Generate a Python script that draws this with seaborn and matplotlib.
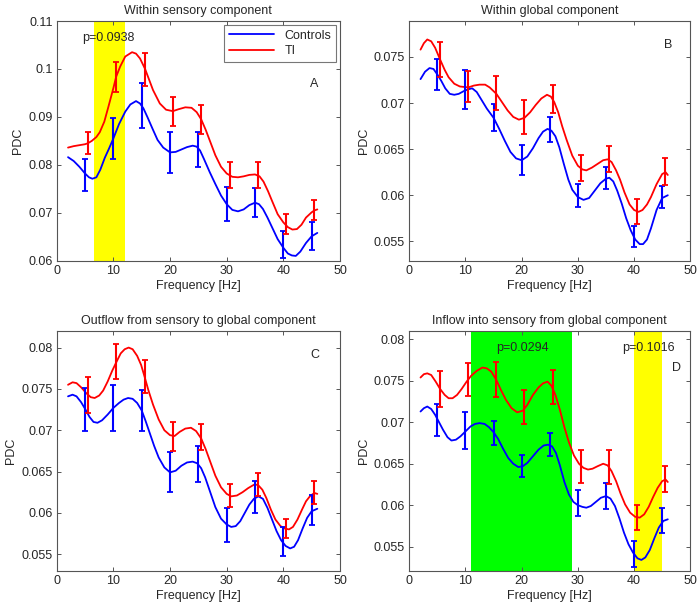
import matplotlib
matplotlib.use("Agg")
import matplotlib.pyplot as plt
import seaborn as sns
from matplotlib.ticker import FuncFormatter

sns.set_style("ticks")
plt.rcParams['font.family'] = ['Liberation Sans', 'DejaVu Sans']
plt.rcParams['font.size'] = 9

# ---- panel A: within sensory component ----
a_ti_x = [2, 3, 4, 5, 5.5, 6.2, 7, 7.6, 8.4, 9.1, 10, 10.5, 11.2, 12.1, 13.3, 14, 14.7, 15.6,
          16.3, 17, 18.2, 19.3, 20.5, 21.5, 22.7, 23.8, 24.7, 25.5, 26.3, 27.2, 28, 29, 30, 31,
          32, 33, 34, 35, 35.8, 36.5, 37.3, 38, 39, 40, 40.8, 41.6, 42.4, 43.2, 44, 45, 45.5, 46]
a_ti_y = [0.0836, 0.0839, 0.0841, 0.0843, 0.0845, 0.0850, 0.0858, 0.0868, 0.0890, 0.0920, 0.0960,
          0.0984, 0.1005, 0.1026, 0.1035, 0.1032, 0.1022, 0.1000, 0.0978, 0.0956, 0.0928, 0.0915,
          0.0912, 0.0916, 0.0920, 0.0919, 0.0910, 0.0895, 0.0873, 0.0845, 0.0820, 0.0796, 0.0782,
          0.0775, 0.0774, 0.0776, 0.0779, 0.0780, 0.0776, 0.0765, 0.0745, 0.0725, 0.0697, 0.0680,
          0.0670, 0.0665, 0.0666, 0.0675, 0.0690, 0.0701, 0.0705, 0.0707]
a_ct_x = [2, 3, 4, 5, 5.7, 6.3, 7, 7.7, 8.5, 9.2, 10, 11, 12.1, 13, 14, 14.7, 15.3, 16, 17, 17.8,
          18.8, 20, 21, 22, 23, 24, 24.7, 25.3, 26, 27, 28, 29, 30, 31, 32, 33, 34, 35, 35.7, 36.4,
          37.2, 38, 39, 40, 40.8, 41.5, 42.2, 43, 44, 45, 46]
a_ct_y = [0.0816, 0.0808, 0.0796, 0.0782, 0.0774, 0.0771, 0.0774, 0.0790, 0.0815, 0.0833, 0.0855,
          0.0885, 0.0911, 0.0926, 0.0933, 0.0928, 0.0918, 0.0900, 0.0873, 0.0852, 0.0836, 0.0826,
          0.0827, 0.0832, 0.0837, 0.0840, 0.0838, 0.0830, 0.0812, 0.0785, 0.0760, 0.0736, 0.0718,
          0.0706, 0.0703, 0.0707, 0.0716, 0.0721, 0.0718, 0.0708, 0.0690, 0.0670, 0.0645, 0.0627,
          0.0615, 0.0611, 0.0610, 0.0619, 0.0637, 0.0651, 0.0658]
a_ti_ebx = [5.5, 10.5, 15.5, 20.5, 25.5, 30.5, 35.5, 40.5, 45.5]
a_ti_lo = [0.0822, 0.0953, 0.0965, 0.0880, 0.0864, 0.0752, 0.0752, 0.0655, 0.0685]
a_ti_hi = [0.0868, 0.1015, 0.1033, 0.0942, 0.0925, 0.0805, 0.0806, 0.0698, 0.0726]
a_ct_ebx = [5, 10, 15, 20, 25, 30, 35, 40, 45]
a_ct_lo = [0.0745, 0.0812, 0.0877, 0.0784, 0.0796, 0.0683, 0.0692, 0.0606, 0.0622]
a_ct_hi = [0.0812, 0.0897, 0.0971, 0.0869, 0.0869, 0.0753, 0.0751, 0.0662, 0.0681]

# ---- panel B: within global component ----
b_ti_x = [2, 2.6, 3.2, 3.9, 4.6, 5.5, 6.3, 7, 8, 9, 10.5, 11.5, 12.5, 13.5, 14.3, 15.5, 16.5,
          17.5, 18.5, 19.5, 20.5, 21.5, 22.5, 23.5, 24.5, 25.2, 25.8, 26.5, 27.2, 28, 29, 30, 30.8,
          31.5, 32.5, 33.5, 34.5, 35.3, 36, 36.8, 37.5, 38.3, 39.2, 40, 40.8, 41.5, 42.3, 43, 44,
          45, 45.6, 46]
b_ti_y = [0.0758, 0.0765, 0.0769, 0.0767, 0.0760, 0.0747, 0.0736, 0.0728, 0.0721, 0.0718, 0.0717,
          0.0719, 0.0720, 0.0720, 0.0717, 0.0710, 0.0701, 0.0692, 0.0685, 0.0682, 0.0684, 0.0690,
          0.0698, 0.0705, 0.0709, 0.0707, 0.0701, 0.0690, 0.0675, 0.0660, 0.0643, 0.0632, 0.0628,
          0.0627, 0.0630, 0.0634, 0.0638, 0.0639, 0.0636, 0.0627, 0.0617, 0.0603, 0.0590, 0.0584,
          0.0582, 0.0584, 0.0590, 0.0598, 0.0612, 0.0623, 0.0625, 0.0622]
b_ct_x = [2, 2.8, 3.6, 4.3, 5, 5.7, 6.4, 7.2, 8, 8.8, 9.7, 10.5, 11.2, 12, 12.8, 13.8, 15, 16, 17,
          18, 19, 20, 21, 22, 23, 23.8, 24.6, 25.3, 26, 26.7, 27.5, 28.3, 29, 30, 31, 32, 33, 34,
          35, 35.6, 36.3, 37, 37.8, 38.6, 39.4, 40.2, 41, 41.6, 42.3, 43, 44, 45, 46]
b_ct_y = [0.0726, 0.0734, 0.0738, 0.0737, 0.0731, 0.0724, 0.0716, 0.0710, 0.0709, 0.0710, 0.0713,
          0.0715, 0.0716, 0.0712, 0.0704, 0.0694, 0.0684, 0.0672, 0.0659, 0.0647, 0.0640, 0.0638,
          0.0642, 0.0651, 0.0662, 0.0669, 0.0672, 0.0670, 0.0664, 0.0652, 0.0634, 0.0617, 0.0606,
          0.0598, 0.0595, 0.0597, 0.0605, 0.0613, 0.0618, 0.0619, 0.0615, 0.0605, 0.0591, 0.0575,
          0.0562, 0.0552, 0.0547, 0.0547, 0.0552, 0.0564, 0.0584, 0.0597, 0.0600]
b_ti_ebx = [5.5, 10.5, 15.5, 20.5, 25.5, 30.5, 35.5, 40.5, 45.5]
b_ti_lo = [0.0728, 0.0701, 0.0693, 0.0666, 0.0689, 0.0615, 0.0625, 0.0569, 0.0611]
b_ti_hi = [0.0766, 0.0735, 0.0729, 0.0703, 0.0720, 0.0644, 0.0653, 0.0596, 0.0640]
b_ct_ebx = [5, 10, 15, 20, 25, 30, 35, 40, 45]
b_ct_lo = [0.0714, 0.0694, 0.0670, 0.0622, 0.0658, 0.0587, 0.0607, 0.0544, 0.0586]
b_ct_hi = [0.0748, 0.0736, 0.0699, 0.0654, 0.0685, 0.0612, 0.0631, 0.0567, 0.0610]

# ---- panel C: outflow sensory -> global ----
c_ti_x = [2, 2.8, 3.5, 4.3, 5.2, 6, 6.7, 7.5, 8.2, 9, 9.8, 10.5, 11.3, 12, 12.7, 13.4, 14.2, 14.9,
          15.5, 16.2, 17, 18, 19, 20, 20.8, 21.7, 22.7, 23.7, 24.6, 25.5, 26.3, 27.2, 28, 29, 30,
          30.8, 31.8, 32.8, 33.8, 34.8, 35.5, 36.3, 37, 37.8, 38.6, 39.5, 40.3, 41, 41.7, 42.5,
          43.3, 44, 44.8, 45.5, 46]
c_ti_y = [0.0755, 0.0758, 0.0757, 0.0752, 0.0745, 0.0740, 0.0739, 0.0742, 0.0748, 0.0759, 0.0772,
          0.0782, 0.0793, 0.0798, 0.0800, 0.0798, 0.0790, 0.0779, 0.0765, 0.0748, 0.0731, 0.0713,
          0.0700, 0.0694, 0.0693, 0.0698, 0.0702, 0.0703, 0.0699, 0.0690, 0.0677, 0.0660, 0.0645,
          0.0631, 0.0623, 0.0620, 0.0621, 0.0625, 0.0630, 0.0634, 0.0634, 0.0628, 0.0618, 0.0604,
          0.0592, 0.0584, 0.0581, 0.0580, 0.0583, 0.0592, 0.0604, 0.0614, 0.0621, 0.0624, 0.0623]
c_ct_x = [2, 2.8, 3.5, 4.3, 5, 5.8, 6.5, 7.2, 8, 9, 10, 11, 11.8, 12.6, 13.4, 14.2, 15, 15.7, 16.4,
          17.2, 18, 19, 20, 21, 22, 23, 24, 24.8, 25.5, 26.2, 27, 28, 29, 30, 30.8, 31.6, 32.4,
          33.2, 34, 34.8, 35.6, 36.4, 37.2, 38, 38.8, 39.6, 40.4, 41.2, 41.9, 42.6, 43.4, 44.2,
          45, 46]
c_ct_y = [0.0741, 0.0743, 0.0741, 0.0734, 0.0726, 0.0716, 0.0710, 0.0709, 0.0712, 0.0719, 0.0727,
          0.0733, 0.0737, 0.0739, 0.0738, 0.0733, 0.0724, 0.0711, 0.0697, 0.0681, 0.0667, 0.0655,
          0.0649, 0.0651, 0.0657, 0.0661, 0.0662, 0.0660, 0.0654, 0.0643, 0.0627, 0.0607, 0.0593,
          0.0586, 0.0583, 0.0584, 0.0590, 0.0600, 0.0610, 0.0617, 0.0620, 0.0617, 0.0606, 0.0592,
          0.0578, 0.0567, 0.0560, 0.0557, 0.0559, 0.0567, 0.0581, 0.0594, 0.0602, 0.0605]
c_ti_ebx = [5.5, 10.5, 15.5, 20.5, 25.5, 30.5, 35.5, 40.5, 45.5]
c_ti_lo = [0.0721, 0.0762, 0.0745, 0.0675, 0.0676, 0.0607, 0.0621, 0.0569, 0.0611]
c_ti_hi = [0.0765, 0.0804, 0.0785, 0.0710, 0.0707, 0.0635, 0.0648, 0.0593, 0.0638]
c_ct_ebx = [5, 10, 15, 20, 25, 30, 35, 40, 45]
c_ct_lo = [0.0699, 0.0699, 0.0699, 0.0625, 0.0637, 0.0565, 0.0600, 0.0548, 0.0585]
c_ct_hi = [0.0751, 0.0755, 0.0749, 0.0674, 0.0681, 0.0606, 0.0638, 0.0583, 0.0622]

# ---- panel D: inflow global -> sensory ----
d_ti_x = [2, 2.6, 3.2, 3.9, 4.7, 5.5, 6.3, 7, 7.7, 8.5, 9.3, 10.2, 11, 12, 13, 13.8, 14.6, 15.5,
          16.3, 17.2, 18.2, 19.2, 20.2, 21, 22, 23, 23.8, 24.6, 25.3, 26, 26.8, 27.6, 28.4, 29.3,
          30.2, 31, 31.8, 32.6, 33.5, 34.5, 35.3, 36, 36.8, 37.6, 38.4, 39.3, 40.2, 41, 41.8, 42.6,
          43.4, 44.2, 45, 45.6, 46]
d_ti_y = [0.0754, 0.0758, 0.0759, 0.0757, 0.0749, 0.0740, 0.0733, 0.0729, 0.0729, 0.0733, 0.0740,
          0.0749, 0.0756, 0.0762, 0.0766, 0.0765, 0.0761, 0.0751, 0.0739, 0.0727, 0.0717, 0.0712,
          0.0714, 0.0721, 0.0733, 0.0742, 0.0747, 0.0749, 0.0744, 0.0733, 0.0715, 0.0694, 0.0676,
          0.0660, 0.0650, 0.0645, 0.0643, 0.0644, 0.0647, 0.0650, 0.0648, 0.0641, 0.0629, 0.0614,
          0.0601, 0.0591, 0.0586, 0.0585, 0.0589, 0.0598, 0.0610, 0.0621, 0.0629, 0.0631, 0.0628]
d_ct_x = [2, 2.6, 3.2, 3.9, 4.6, 5.3, 6, 6.8, 7.5, 8.3, 9.1, 10, 10.9, 11.7, 12.5, 13.4, 14.2, 15,
          15.8, 16.7, 17.6, 18.5, 19.4, 20.2, 21, 22, 23, 23.9, 24.7, 25.4, 26.1, 26.8, 27.6, 28.4,
          29.2, 30, 30.8, 31.5, 32.3, 33.2, 34.1, 35, 35.8, 36.6, 37.4, 38.2, 39, 39.8, 40.6, 41.3,
          42, 42.8, 43.6, 44.4, 45.2, 46]
d_ct_y = [0.0713, 0.0717, 0.0719, 0.0716, 0.0709, 0.0700, 0.0691, 0.0682, 0.0678, 0.0679, 0.0683,
          0.0689, 0.0695, 0.0698, 0.0699, 0.0698, 0.0694, 0.0688, 0.0680, 0.0668, 0.0657, 0.0650,
          0.0646, 0.0647, 0.0651, 0.0659, 0.0667, 0.0672, 0.0673, 0.0671, 0.0663, 0.0648, 0.0628,
          0.0613, 0.0604, 0.0600, 0.0598, 0.0597, 0.0599, 0.0604, 0.0609, 0.0611, 0.0608, 0.0599,
          0.0584, 0.0567, 0.0553, 0.0543, 0.0536, 0.0534, 0.0537, 0.0546, 0.0560, 0.0573, 0.0581,
          0.0583]
d_ti_ebx = [5.5, 10.5, 15.5, 20.5, 25.5, 30.5, 35.5, 40.5, 45.5]
d_ti_lo = [0.0719, 0.0732, 0.0730, 0.0698, 0.0722, 0.0627, 0.0626, 0.0570, 0.0616]
d_ti_hi = [0.0762, 0.0771, 0.0773, 0.0739, 0.0763, 0.0667, 0.0666, 0.0600, 0.0647]
d_ct_ebx = [5, 10, 15, 20, 25, 30, 35, 40, 45]
d_ct_lo = [0.0684, 0.0668, 0.0673, 0.0634, 0.0659, 0.0587, 0.0595, 0.0525, 0.0566]
d_ct_hi = [0.0722, 0.0712, 0.0702, 0.0661, 0.0687, 0.0618, 0.0627, 0.0557, 0.0597]

titles = ["Within sensory component", "Within global component",
          "Outflow from sensory to global component", "Inflow into sensory from global component"]
letters = ["A", "B", "C", "D"]
ylims = [(0.06, 0.11), (0.0529, 0.0789), (0.053, 0.082), (0.0521, 0.081)]
yticks = [[0.06, 0.07, 0.08, 0.09, 0.10, 0.11],
          [0.055, 0.06, 0.065, 0.07, 0.075],
          [0.055, 0.06, 0.065, 0.07, 0.075, 0.08],
          [0.055, 0.06, 0.065, 0.07, 0.075, 0.08]]
letter_pos = [(45.5, 0.0968), (46.0, 0.0763), (45.6, 0.0791), (47.6, 0.0765)]

# significance spans: (panel, start, end, colour, label, label x, label y)
spans = [(0, 6.5, 12, "#ffff00", "p=0.0938", 9.1, 0.1064),
         (3, 11, 29, "#00ff00", "p=0.0294", 20.1, 0.0789),
         (3, 40, 45, "#ffff00", "p=0.1016", 42.5, 0.0789)]

panels = [
    (a_ct_x, a_ct_y, a_ti_x, a_ti_y, a_ct_ebx, a_ct_lo, a_ct_hi, a_ti_ebx, a_ti_lo, a_ti_hi),
    (b_ct_x, b_ct_y, b_ti_x, b_ti_y, b_ct_ebx, b_ct_lo, b_ct_hi, b_ti_ebx, b_ti_lo, b_ti_hi),
    (c_ct_x, c_ct_y, c_ti_x, c_ti_y, c_ct_ebx, c_ct_lo, c_ct_hi, c_ti_ebx, c_ti_lo, c_ti_hi),
    (d_ct_x, d_ct_y, d_ti_x, d_ti_y, d_ct_ebx, d_ct_lo, d_ct_hi, d_ti_ebx, d_ti_lo, d_ti_hi),
]

fig = plt.figure(figsize=(7, 6.08), dpi=100)
positions = [[0.081, 0.5712, 0.4047, 0.3942], [0.5847, 0.5712, 0.4014, 0.3942],
             [0.081, 0.0613, 0.4047, 0.3942], [0.5847, 0.0613, 0.4014, 0.3942]]

blue = "#0000ff"
red = "#ff0000"


def draw_err(ax, xs, lo, hi, col):
    mid = [(l + h) / 2 for l, h in zip(lo, hi)]
    half = [(h - l) / 2 for l, h in zip(lo, hi)]
    ax.errorbar(xs, mid, yerr=half, fmt="none", ecolor=col, elinewidth=1.5,
                capsize=2.3, capthick=1.3, zorder=4)


for i, pos in enumerate(positions):
    ax = fig.add_axes(pos)
    cx, cy, tx, ty, cex, clo, chi, tex, tlo, thi = panels[i]

    for (p, s, e, col, lab, lx, ly) in spans:
        if p == i:
            ax.axvspan(s, e, color=col, lw=0, zorder=0)
            ax.text(lx, ly, lab, ha="center", va="center", fontsize=9)

    sns.lineplot(x=cx, y=cy, ax=ax, color=blue, lw=1.3, label="Controls" if i == 0 else None,
                 legend=False, zorder=3)
    sns.lineplot(x=tx, y=ty, ax=ax, color=red, lw=1.3, label="TI" if i == 0 else None,
                 legend=False, zorder=3)
    draw_err(ax, cex, clo, chi, blue)
    draw_err(ax, tex, tlo, thi, red)

    ax.set_xlim(0, 50)
    ax.set_ylim(*ylims[i])
    ax.set_xticks([0, 10, 20, 30, 40, 50])
    ax.set_yticks(yticks[i])
    ax.yaxis.set_major_formatter(FuncFormatter(lambda v, _: "%g" % round(v, 4)))
    ax.set_title(titles[i], fontsize=9, pad=5)
    ax.set_xlabel("Frequency [Hz]", fontsize=9, labelpad=2)
    ax.set_ylabel("PDC", fontsize=9, labelpad=3)
    ax.text(*letter_pos[i], letters[i], ha="center", va="center", fontsize=9)

    for sp in ax.spines.values():
        sp.set_visible(True)
        sp.set_color("#555555")
        sp.set_linewidth(0.8)
    ax.tick_params(direction="in", length=3, width=0.7, color="#555555", labelsize=9,
                   top=True, right=True, pad=3)
    ax.grid(False)

    if i == 0:
        leg = ax.legend(loc="upper right", fontsize=9, frameon=True, fancybox=False,
                        handlelength=3.6, borderaxespad=0.3, borderpad=0.4,
                        labelspacing=0.25)
        leg.get_frame().set_edgecolor("#555555")
        leg.get_frame().set_linewidth(0.8)

fig.savefig("out.png", dpi=100)
